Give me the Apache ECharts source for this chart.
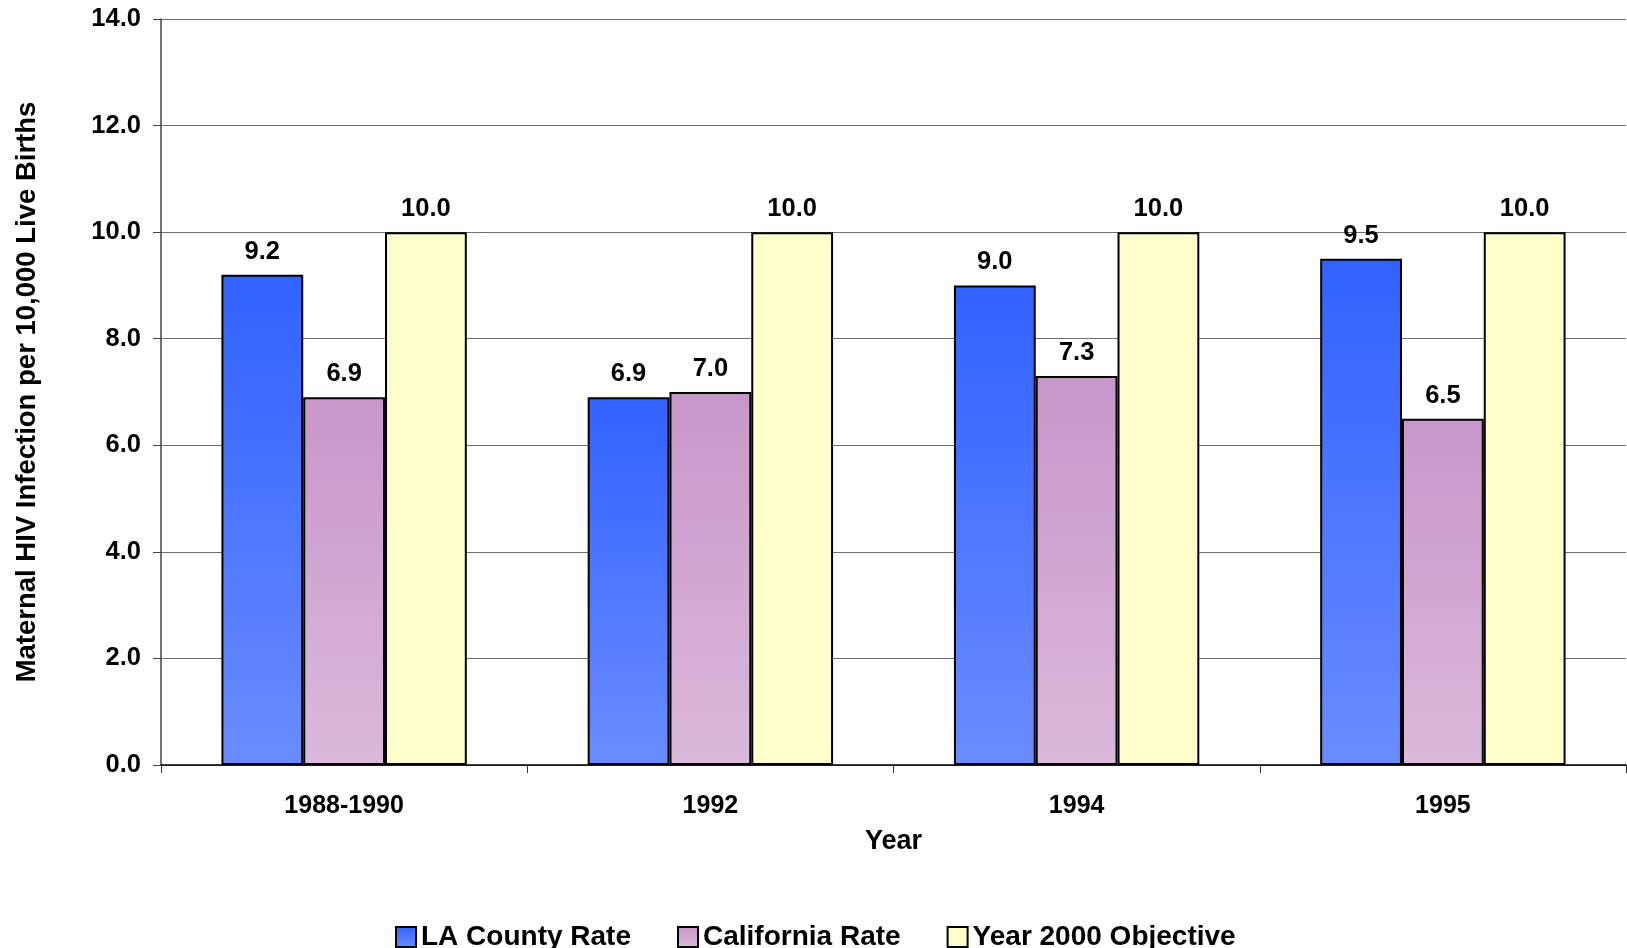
<!DOCTYPE html>
<html>
<head>
<meta charset="utf-8">
<script src="https://cdn.jsdelivr.net/npm/echarts@6/dist/echarts.min.js"></script>
<style>
  html, body { margin: 0; padding: 0; background: #fff; }
  #chart { width: 1627px; height: 948px; }
</style>
</head>
<body>
<div id="chart"></div>
<script>
var years = ['1988-1990', '1992', '1994', '1995']
var laRate = [9.2, 6.9, 9.0, 9.5]
var caRate = [6.9, 7.0, 7.3, 6.5]
var objective = [10.0, 10.0, 10.0, 10.0]
var seriesNames = ['LA County Rate', 'California Rate', 'Year 2000 Objective']

var font = 'Liberation Sans, Arial, sans-serif'

function grad (top, bottom) {
  return new echarts.graphic.LinearGradient(0, 0, 0, 1, [
    { offset: 0, color: top },
    { offset: 1, color: bottom }
  ])
}

function makeBar (name, data, color) {
  return {
    name: name,
    type: 'bar',
    data: data,
    barGap: '0%',
    barCategoryGap: '33%',
    itemStyle: { color: color, borderColor: '#000', borderWidth: 2 },
    label: {
      show: true,
      position: 'top',
      distance: 10,
      formatter: function (p) { return p.value.toFixed(1) },
      fontFamily: font,
      fontWeight: 'bold',
      fontSize: 25.5,
      color: '#000'
    }
  }
}

var chart = echarts.init(document.getElementById('chart'))
chart.setOption({
  animation: false,
  backgroundColor: '#fff',
  grid: { left: 161, top: 19, right: 1, bottom: 183, containLabel: false },
  legend: {
    left: 390,
    top: 918,
    itemWidth: 20,
    itemHeight: 20,
    itemGap: 46,
    icon: 'rect',
    textStyle: { fontFamily: font, fontWeight: 'bold', fontSize: 28, color: '#000' },
    data: seriesNames.map(function (n) {
      return { name: n, itemStyle: { borderColor: '#000', borderWidth: 2 } }
    })
  },
  xAxis: {
    type: 'category',
    data: years,
    name: 'Year',
    nameLocation: 'middle',
    nameGap: 63,
    nameTextStyle: { fontFamily: font, fontWeight: 'bold', fontSize: 27, color: '#000' },
    axisLine: { lineStyle: { color: '#000', width: 1.5 } },
    axisTick: { show: true, length: 8, lineStyle: { color: '#333' } },
    axisLabel: { fontFamily: font, fontWeight: 'bold', fontSize: 25, color: '#000', margin: 29 }
  },
  yAxis: {
    type: 'value',
    min: 0,
    max: 14,
    interval: 2,
    name: 'Maternal HIV Infection per 10,000 Live Births',
    nameLocation: 'middle',
    nameGap: 120,
    nameTextStyle: { fontFamily: font, fontWeight: 'bold', fontSize: 27.5, color: '#000' },
    axisLine: { show: true, lineStyle: { color: '#444', width: 1.5 } },
    axisTick: { show: true, length: 8, lineStyle: { color: '#444' } },
    axisLabel: {
      fontFamily: font, fontWeight: 'bold', fontSize: 25.5, color: '#000', margin: 20,
      formatter: function (v) { return v.toFixed(1) }
    },
    splitLine: { lineStyle: { color: '#6f6f6f', width: 1.2 } }
  },
  series: [
    makeBar(seriesNames[0], laRate, grad('#3162ff', '#6a8cff')),
    makeBar(seriesNames[1], caRate, grad('#c996c9', '#dab9db')),
    makeBar(seriesNames[2], objective, '#ffffcc')
  ]
})
</script>
</body>
</html>
